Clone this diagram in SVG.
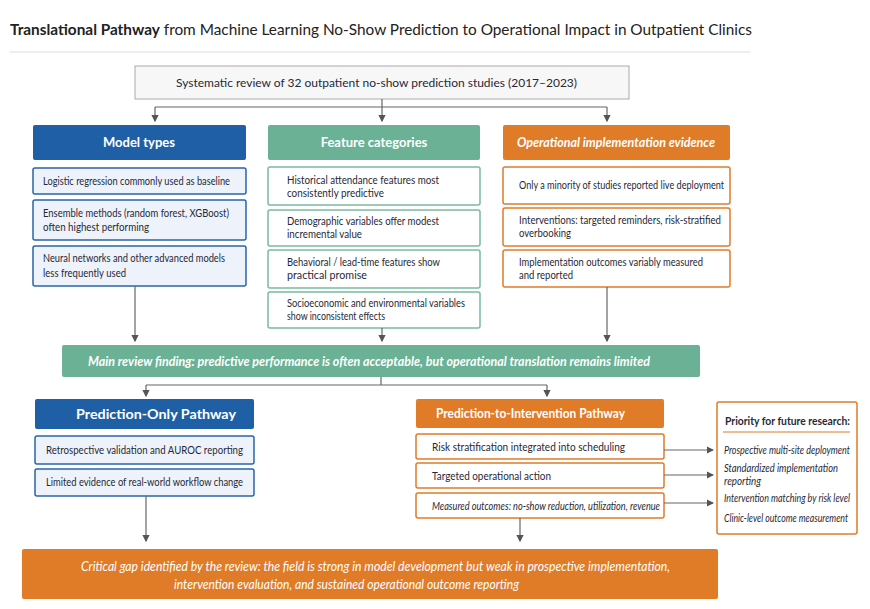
<svg xmlns="http://www.w3.org/2000/svg" width="870" height="609" viewBox="0 0 870 609">
<style>
text{font-family:Lato,"Liberation Sans",sans-serif;}
.t{font-size:11px;fill:#1f2937}
.h{font-size:13px;font-weight:bold;fill:#fff}
.hd{font-weight:bold}
.bl{fill:#1f5fa6}.gr{fill:#6ab195}.or{fill:#e07b28}
.bi{fill:#eef3fb;stroke:#2a65a8;stroke-width:1.5}
.gi{fill:#fff;stroke:#7ab9a1;stroke-width:1.5}
.oi{fill:#fff;stroke:#e07b28;stroke-width:1.5}
.ln{stroke:#666;stroke-width:1.2;fill:none}
.it{font-style:italic}
</style>
<defs><marker id="a" markerWidth="6" markerHeight="6" refX="5" refY="3" orient="auto"><path d="M0,0L6,3L0,6z" fill="#555"/></marker></defs>
<rect width="870" height="609" fill="#fff"/>
<text x="10" y="35" font-size="16" fill="#222" textLength="742" lengthAdjust="spacingAndGlyphs"><tspan font-weight="bold">Translational Pathway</tspan> from Machine Learning No-Show Prediction to Operational Impact in Outpatient Clinics</text>
<line x1="10" y1="52" x2="750" y2="52" stroke="#ddd"/>
<g id="top"><rect x="135" y="66" width="494" height="33" fill="#f7f7f7" stroke="#aaa"/><text x="176" y="87" class="t" font-size="13" textLength="401" lengthAdjust="spacingAndGlyphs">Systematic review of 32 outpatient no-show prediction studies (2017–2023)</text></g>
<g id="model">
<rect x="33" y="125" width="213" height="35" rx="2" class="bl"/><text x="139" y="147" text-anchor="middle" class="h">Model types</text>
<rect x="33" y="168" width="213" height="26" rx="2" class="bi"/><text x="43" y="185" class="t" textLength="187" lengthAdjust="spacingAndGlyphs">Logistic regression commonly used as baseline</text>
<rect x="33" y="200" width="213" height="40" rx="2" class="bi"/><text x="43" y="217" class="t" textLength="186" lengthAdjust="spacingAndGlyphs">Ensemble methods (random forest, XGBoost)</text><text x="43" y="231" class="t" textLength="106" lengthAdjust="spacingAndGlyphs">often highest performing</text>
<rect x="33" y="246" width="213" height="40" rx="2" class="bi"/><text x="43" y="262" class="t" textLength="182" lengthAdjust="spacingAndGlyphs">Neural networks and other advanced models</text><text x="43" y="277" class="t" textLength="83" lengthAdjust="spacingAndGlyphs">less frequently used</text>
</g>
<g id="feat">
<rect x="268" y="125" width="212" height="35" rx="2" class="gr"/><text x="374" y="147" text-anchor="middle" class="h">Feature categories</text>
<rect x="268" y="167" width="212" height="38" rx="2" class="gi"/><text x="287" y="184" class="t" textLength="152" lengthAdjust="spacingAndGlyphs">Historical attendance features most</text><text x="287" y="197" class="t" textLength="97" lengthAdjust="spacingAndGlyphs">consistently predictive</text>
<rect x="268" y="210" width="212" height="36" rx="2" class="gi"/><text x="287" y="225" class="t" textLength="152" lengthAdjust="spacingAndGlyphs">Demographic variables offer modest</text><text x="287" y="238" class="t" textLength="75" lengthAdjust="spacingAndGlyphs">incremental value</text>
<rect x="268" y="250" width="212" height="38" rx="2" class="gi"/><text x="287" y="266" class="t" textLength="153" lengthAdjust="spacingAndGlyphs">Behavioral / lead-time features show</text><text x="287" y="279" class="t" textLength="80" lengthAdjust="spacingAndGlyphs">practical promise</text>
<rect x="268" y="292" width="212" height="36" rx="2" class="gi"/><text x="287" y="307" class="t" textLength="178" lengthAdjust="spacingAndGlyphs">Socioeconomic and environmental variables</text><text x="287" y="320" class="t" textLength="98" lengthAdjust="spacingAndGlyphs">show inconsistent effects</text>
</g>
<g id="oper">
<rect x="503" y="125" width="227" height="35" rx="2" class="or"/><text x="517" y="147" class="h it" textLength="198" lengthAdjust="spacingAndGlyphs">Operational implementation evidence</text>
<rect x="503" y="167" width="227" height="37" rx="2" class="oi"/><text x="519" y="189" class="t" textLength="205" lengthAdjust="spacingAndGlyphs">Only a minority of studies reported live deployment</text>
<rect x="503" y="208" width="227" height="38" rx="2" class="oi"/><text x="519" y="224" class="t" textLength="202" lengthAdjust="spacingAndGlyphs">Interventions: targeted reminders, risk-stratified</text><text x="519" y="237" class="t" textLength="52" lengthAdjust="spacingAndGlyphs">overbooking</text>
<rect x="503" y="250" width="227" height="37" rx="2" class="oi"/><text x="519" y="266" class="t" textLength="184" lengthAdjust="spacingAndGlyphs">Implementation outcomes variably measured</text><text x="519" y="279" class="t" textLength="54" lengthAdjust="spacingAndGlyphs">and reported</text>
</g>
<g id="finding"><rect x="62" y="345" width="638" height="32" rx="2" class="gr"/><text x="88" y="366" class="h it" font-size="12.5" textLength="562" lengthAdjust="spacingAndGlyphs">Main review finding: predictive performance is often acceptable, but operational translation remains limited</text></g>
<g id="ponly">
<rect x="35" y="399" width="219" height="30" rx="2" class="bl"/><text x="76" y="419" class="h" textLength="160" lengthAdjust="spacingAndGlyphs">Prediction-Only Pathway</text>
<rect x="35" y="436" width="219" height="28" rx="2" class="bi"/><text x="46" y="454" class="t" textLength="197" lengthAdjust="spacingAndGlyphs">Retrospective validation and AUROC reporting</text>
<rect x="35" y="469" width="219" height="27" rx="2" class="bi"/><text x="46" y="486" class="t" textLength="197" lengthAdjust="spacingAndGlyphs">Limited evidence of real-world workflow change</text>
</g>
<g id="pint">
<rect x="416" y="399" width="248" height="29" rx="2" class="or"/><text x="436" y="418" class="h" textLength="189" lengthAdjust="spacingAndGlyphs">Prediction-to-Intervention Pathway</text>
<rect x="416" y="434" width="248" height="25" rx="2" class="oi"/><text x="432" y="451" class="t" textLength="193" lengthAdjust="spacingAndGlyphs">Risk stratification integrated into scheduling</text>
<rect x="416" y="463" width="248" height="25" rx="2" class="oi"/><text x="432" y="480" class="t" textLength="119" lengthAdjust="spacingAndGlyphs">Targeted operational action</text>
<rect x="416" y="493" width="248" height="25" rx="2" class="oi"/><text x="432" y="510" class="t it" textLength="228" lengthAdjust="spacingAndGlyphs">Measured outcomes: no-show reduction, utilization, revenue</text>
</g>
<g id="prio">
<rect x="717" y="402" width="140" height="132" rx="2" class="oi"/>
<text x="725" y="425" class="t hd" textLength="125" lengthAdjust="spacingAndGlyphs">Priority for future research:</text>
<line x1="723" y1="432" x2="850" y2="432" stroke="#e07b28" stroke-width="1.2"/>
<text x="724" y="454" class="t it" font-size="10" textLength="126" lengthAdjust="spacingAndGlyphs">Prospective multi-site deployment</text>
<text x="724" y="472" class="t it" font-size="10" textLength="114" lengthAdjust="spacingAndGlyphs">Standardized implementation</text><text x="724" y="485" class="t it" font-size="10" textLength="37" lengthAdjust="spacingAndGlyphs">reporting</text>
<text x="724" y="502" class="t it" font-size="10" textLength="126" lengthAdjust="spacingAndGlyphs">Intervention matching by risk level</text>
<text x="724" y="522" class="t it" font-size="10" textLength="124" lengthAdjust="spacingAndGlyphs">Clinic-level outcome measurement</text>
</g>
<g id="gap"><rect x="22" y="549" width="696" height="50" rx="2" class="or"/>
<text x="81" y="571" class="it" fill="#fff" font-size="12.5" textLength="589" lengthAdjust="spacingAndGlyphs">Critical gap identified by the review: the field is strong in model development but weak in prospective implementation,</text>
<text x="174" y="589" class="it" fill="#fff" font-size="12.5" textLength="345" lengthAdjust="spacingAndGlyphs">intervention evaluation, and sustained operational outcome reporting</text></g>
<g id="connectors" class="ln">
<path d="M382 99V107M155 107H607"/>
<path d="M155 107V121" marker-end="url(#a)"/><path d="M382 107V121" marker-end="url(#a)"/><path d="M607 107V121" marker-end="url(#a)"/>
<path d="M135 286V341" marker-end="url(#a)"/><path d="M382 328V341" marker-end="url(#a)"/><path d="M607 287V341" marker-end="url(#a)"/>
<path d="M381 377V385M146 385H547"/>
<path d="M146 385V396" marker-end="url(#a)"/><path d="M547 385V396" marker-end="url(#a)"/>
<path d="M664 450H713" marker-end="url(#a)"/><path d="M664 475H713" marker-end="url(#a)"/><path d="M664 503H713" marker-end="url(#a)"/>
<path d="M146 496V541" marker-end="url(#a)"/><path d="M520 518V541" marker-end="url(#a)"/>
</g>
</svg>
